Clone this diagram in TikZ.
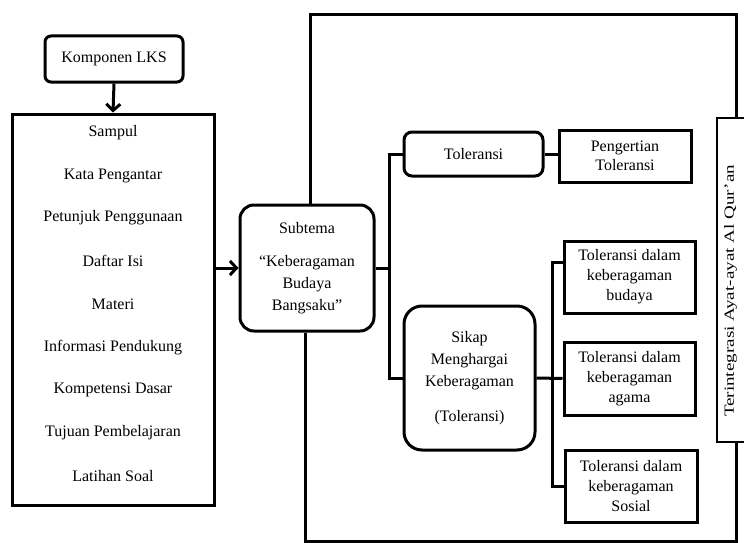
\documentclass[tikz,border=0pt]{standalone}
\usepackage{fontspec}
\setmainfont{Liberation Serif}
\usetikzlibrary{arrows.meta,calc}
\begin{document}
\begin{tikzpicture}[x=1pt,y=-1pt,
  every node/.style={font=\fontsize{16}{20}\selectfont, inner sep=0pt, align=center},
  rbox/.style={draw, line width=3pt, rounded corners=#1},
  sbox/.style={draw, line width=3pt},
  conn/.style={line width=3pt},
  arr/.style={line width=3pt, -{Straight Barb[length=6.5pt,width=14pt,line width=3pt]}},
  item/.style={font=\fontsize{16}{20}\selectfont}
]
\useasboundingbox (0,0) rectangle (744,543);
\clip (0,0) rectangle (744,543);

% left column
\node[rbox=6pt, minimum width=138pt, minimum height=46pt] (komp) at (114,59) {Komponen LKS};
\node[sbox, minimum width=202pt, minimum height=391pt] (lks) at (113,309.5) {};
\node[item] (l1) at (113,133) {Sampul};
\node[item] (l2) at (113,176) {Kata Pengantar};
\node[item] (l3) at (113,218) {Petunjuk Penggunaan};
\node[item] (l4) at (113,261) {Daftar Isi};
\node[item] (l5) at (113,304) {Materi};
\node[item] (l6) at (113,348) {Informasi Pendukung};
\node[item] (l7) at (113,390) {Kompetensi Dasar};
\node[item] (l8) at (113,433) {Tujuan Pembelajaran};
\node[item] (l9) at (113,476) {Latihan Soal};

% subtema
\node[rbox=14pt, minimum width=134pt, minimum height=126pt] (sub) at (307,268)
  {Subtema\\[13pt]“Keberagaman\\[2pt]Budaya\\[2pt]Bangsaku”};

% middle
\node[rbox=8pt, minimum width=139pt, minimum height=44pt] (tol) at (473.5,154) {Toleransi};
\node[rbox=18pt, minimum width=131pt, minimum height=144pt] (sikap) at (469.5,378)
  {Sikap\\[2pt]Menghargai\\[2pt]Keberagaman\\[15pt](Toleransi)};

% right boxes
\node[sbox, minimum width=132pt, minimum height=52pt] (peng) at (625,156)
  {Pengertian\\[-1pt]Toleransi};
\node[sbox, minimum width=131pt, minimum height=72pt] (b1) at (629.5,277)
  {Toleransi dalam\\keberagaman\\budaya};
\node[sbox, minimum width=131pt, minimum height=73pt] (b2) at (629.5,378.5)
  {Toleransi dalam\\keberagaman\\agama};
\node[sbox, minimum width=132pt, minimum height=72pt] (b3) at (631,486)
  {Toleransi dalam\\keberagaman\\Sosial};

% vertical box
\node[draw, line width=1.3pt, minimum width=44pt, minimum height=324pt] (vert) at (739,280) {};
\node[rotate=90, font=\fontsize{14}{16}\selectfont] (vtext) at (730.5,291)
  {\scalebox{1.36}[1]{Terintegrasi Ayat-ayat Al Qur’an}};

% connectors
\draw[arr] (komp.south) -- (lks.north);
\draw[arr] (lks.east |- sub.west) -- (sub.west);

\coordinate (j1) at (389,268);
\draw[conn] (sub.east) -- (j1);
\draw[conn] (tol.west) -| (j1) |- (sikap.west);
\draw[conn] (tol.east) -- (tol.east -| peng.west);

\coordinate (j2) at (552,378);
\draw[conn] (sikap.east) -- (b2.west);
\draw[conn] ([yshift=15pt]b1.west) -| (j2) |- (b3.west);

% outer frame
\coordinate (tr) at (736,15);
\coordinate (br) at (736,541);
\draw[conn] ([xshift=3pt]sub.north) |- (tr) -- (tr |- vert.north);
\draw[conn] ([xshift=-2pt]sub.south) |- (br) -- (br |- vert.south);
\end{tikzpicture}
\end{document}
